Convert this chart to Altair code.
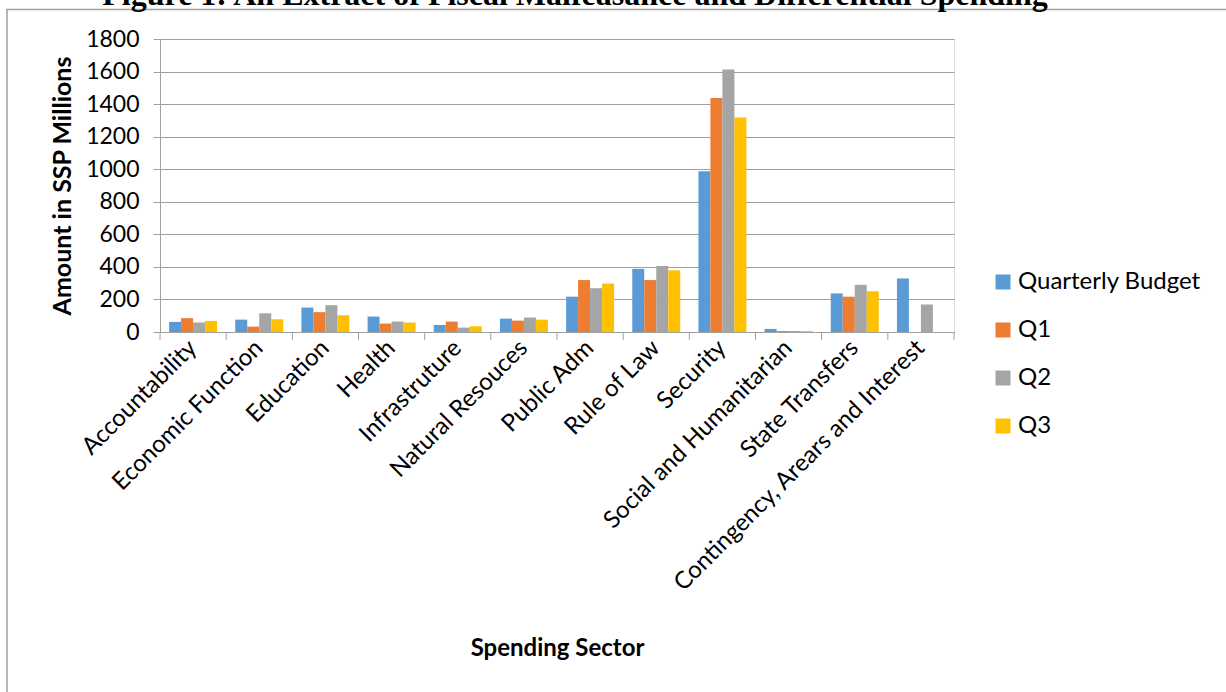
import altair as alt
import pandas as pd

sectors = ["Accountability", "Economic Function", "Education", "Health", "Infrastruture",
           "Natural Resouces", "Public Adm", "Rule of Law", "Security",
           "Social and Humanitarian", "State Transfers", "Contingency, Arears and Interest"]
series = ["Quarterly Budget", "Q1", "Q2", "Q3"]
budget = [62, 76, 150, 95, 43, 82, 217, 388, 987, 19, 237, 329]
q1 = [85, 33, 122, 52, 64, 70, 319, 319, 1438, 6, 217, None]
q2 = [58, 115, 165, 64, 27, 89, 269, 406, 1612, 6, 290, 169]
q3 = [68, 78, 103, 58, 35, 76, 298, 379, 1317, 6, 250, None]
colors = ["#5B9BD5", "#ED7D31", "#A5A5A5", "#FFC000"]
y_ticks = [0, 200, 400, 600, 800, 1000, 1200, 1400, 1600, 1800]
title_text = "Figure 1: An Extract of Fiscal Malfeasance and Differential Spending"

rows = []
for name, vals in zip(series, [budget, q1, q2, q3]):
    for s, v in zip(sectors, vals):
        if v is not None:
            rows.append({"sector": s, "series": name, "value": v})
df = pd.DataFrame(rows)

W, H = 794, 293
GRID = "#A0A0A0"
FONT = "Lato"

x_axis = alt.Axis(ticks=False, domainColor=GRID, domainWidth=1, labelAngle=-45,
                  labelFont=FONT, labelFontSize=24, labelColor="black", labelPadding=12,
                  labelBaseline="middle", labelAlign="right", labelLimit=0,
                  title="Spending Sector", titleFont=FONT, titleFontSize=24,
                  titleFontWeight="bold", titleColor="black", titleY=316,
                  titleBaseline="middle", grid=False)
x_scale = alt.Scale(domain=sectors, paddingInner=0, paddingOuter=0)

bars = alt.Chart(df).mark_bar().encode(
    x=alt.X("sector:N", sort=sectors, scale=x_scale, axis=x_axis),
    xOffset=alt.XOffset("series:N", sort=series,
                        scale=alt.Scale(domain=series, paddingInner=0, paddingOuter=0.757)),
    y=alt.Y("value:Q", scale=alt.Scale(domain=[0, 1800], nice=False),
            axis=alt.Axis(values=y_ticks, format="d", grid=True, gridColor=GRID, gridWidth=1.2,
                          domainColor=GRID, tickColor=GRID, tickSize=7,
                          labelFont=FONT, labelFontSize=23, labelColor="black", labelPadding=14,
                          title="Amount in SSP Millions", titleFont=FONT, titleFontSize=25,
                          titleFontWeight="bold", titleColor="black", titleX=-98,
                          titleBaseline="middle")),
    color=alt.Color("series:N", sort=series,
                    scale=alt.Scale(domain=series, range=colors),
                    legend=alt.Legend(orient="none", legendX=831, legendY=231, title=None,
                                      padding=0, symbolType="square", symbolSize=225,
                                      symbolStrokeWidth=0, labelLimit=0,
                                      labelFont=FONT, labelFontSize=24, labelColor="black",
                                      labelOffset=3, rowPadding=24)),
)

tick_df = pd.DataFrame({"sector": sectors})
ticks = alt.Chart(tick_df).mark_rule(color=GRID, strokeWidth=1).encode(
    x=alt.X("sector:N", sort=sectors, scale=x_scale, axis=x_axis, bandPosition=0),
    y=alt.value(H), y2=alt.value(H + 8),
)
end_tick = alt.Chart(alt.Data(values=[{"k": 1}])).mark_rule(color=GRID, strokeWidth=1).encode(
    x=alt.value(W), y=alt.value(H), y2=alt.value(H + 8),
)
frame = alt.Chart(alt.Data(values=[{"k": 1}])).mark_rect(
    fillOpacity=0, stroke="#A0A0A0", strokeWidth=1.5
).encode(
    x=alt.value(-153), x2=alt.value(1090), y=alt.value(-29.5), y2=alt.value(700),
)
title = alt.Chart(alt.Data(values=[{"t": title_text}])).mark_text(
    font="Liberation Serif", fontSize=32, fontWeight="bold", color="black",
    align="center", baseline="alphabetic"
).encode(text="t:N", x=alt.value(415), y=alt.value(-34))

chart = alt.layer(frame, bars, ticks, end_tick, title).properties(
    width=W, height=H,
    autosize=alt.AutoSizeParams(type="none"),
    padding={"left": 160, "top": 39, "right": 272, "bottom": 360},
).configure_view(stroke=None).configure(background="white")

chart.save("out.html", embed_options={"renderer": "svg", "actions": False})
